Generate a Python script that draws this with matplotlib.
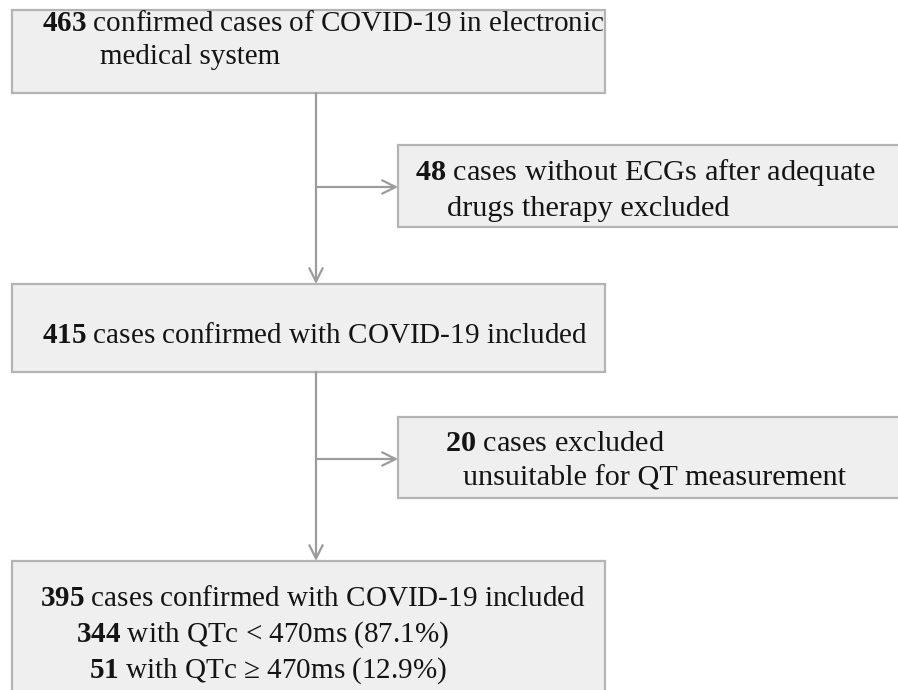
import matplotlib
matplotlib.use("Agg")
import matplotlib.pyplot as plt
import matplotlib.patches as patches

# flowchart content
main_numbers = ["463", "415", "395"]
main_texts = [
    ["confirmed cases of COVID-19 in electronic", "medical system"],
    ["cases confirmed with COVID-19 included"],
    ["cases confirmed with COVID-19 included"],
]
excl_numbers = ["48", "20"]
excl_texts = [
    ["cases without ECGs after adequate", "drugs therapy excluded"],
    ["cases excluded", "unsuitable for QT measurement"],
]
qtc_numbers = ["344", "51"]
qtc_texts = ["with QTc < 470ms (87.1%)", "with QTc \u2265 470ms (12.9%)"]

plt.rcParams["font.family"] = ["Liberation Serif", "DejaVu Serif"]
plt.rcParams["mathtext.fontset"] = "custom"
plt.rcParams["mathtext.rm"] = "Liberation Serif"
plt.rcParams["mathtext.bf"] = "Liberation Serif:bold"

FILL = "#efefef"
EDGE = "#b4b4b4"
LINE = "#9c9c9c"
TXT = "#141414"
FS_MAIN = 21
FS_EXCL = 21.8


def draw_box(ax, x0, y0, x1, y1):
    ax.add_patch(patches.Rectangle((x0, y0), x1 - x0, y1 - y0, facecolor=FILL,
                                   edgecolor=EDGE, linewidth=1.6, zorder=1))


def line_text(ax, x, y, text, number=None, fs=FS_MAIN):
    s = text if number is None else r"$\mathbf{%s}$ %s" % (number, text)
    ax.text(x, y, s, fontsize=fs, color=TXT, ha="left", va="center", zorder=3)


def arrow(ax, start, end):
    ax.annotate("", xy=end, xytext=start,
                arrowprops=dict(arrowstyle="->", color=LINE, lw=1.6,
                                shrinkA=0, shrinkB=0, mutation_scale=24),
                zorder=2)


fig = plt.figure(figsize=(8.98, 6.90), dpi=100)
ax = fig.add_axes([0, 0, 1, 1])
ax.set_xlim(0, 898)
ax.set_ylim(690, 0)
ax.axis("off")

# main boxes
draw_box(ax, 12, 10, 605, 93)
draw_box(ax, 12, 284, 605, 372)
draw_box(ax, 12, 561, 605, 700)
# exclusion boxes
draw_box(ax, 398, 145, 905, 227)
draw_box(ax, 398, 417, 905, 498)

# connectors
cx = 316
arrow(ax, (cx, 93), (cx, 284))
arrow(ax, (cx, 187), (398, 187))
arrow(ax, (cx, 372), (cx, 561))
arrow(ax, (cx, 459), (398, 459))

# text in main boxes
line_text(ax, 42, 24, main_texts[0][0], main_numbers[0])
line_text(ax, 100, 57, main_texts[0][1])
line_text(ax, 42, 336, main_texts[1][0], main_numbers[1])
line_text(ax, 40, 599, main_texts[2][0], main_numbers[2])
line_text(ax, 76, 635, qtc_texts[0], qtc_numbers[0])
line_text(ax, 89, 671, qtc_texts[1], qtc_numbers[1])

# text in exclusion boxes
line_text(ax, 415, 173, excl_texts[0][0], excl_numbers[0], FS_EXCL)
line_text(ax, 447, 209, excl_texts[0][1], fs=FS_EXCL)
line_text(ax, 445, 444, excl_texts[1][0], excl_numbers[1], FS_EXCL)
line_text(ax, 463, 479, excl_texts[1][1], fs=FS_EXCL)

fig.savefig("out.png", dpi=100, facecolor="white")
